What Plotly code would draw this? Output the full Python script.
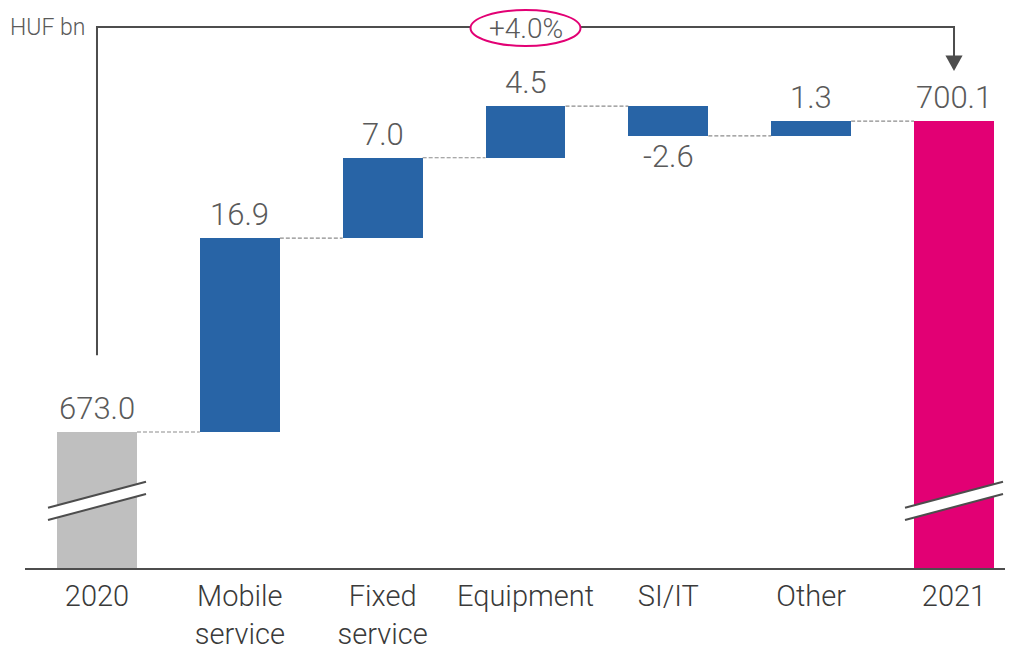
import plotly.graph_objects as go

# ---------------------------------------------------------------------------
# Data
# ---------------------------------------------------------------------------
categories = ['2020', 'Mobile<br>service', 'Fixed<br>service', 'Equipment',
              'SI/IT', 'Other', '2021']
start_value = 673.0
deltas = [16.9, 7.0, 4.5, -2.6, 1.3]
end_value = 700.1
unit_label = 'HUF bn'

COLORS = {
    'start':  '#BFBFBF',
    'delta':  '#2864A6',
    'end':    '#E20074',
    'text':   '#5A5A5A',
    'tick':   '#3A3A3A',
    'line':   '#4D4D4D',
    'dash':   '#8C8C8C',
}

FONT = 'Roboto'
AXIS_FLOOR = 661.15      # broken axis: value at the baseline
AXIS_TOP = 709.95
BAR_W = 0.56

# ---------------------------------------------------------------------------
# Waterfall geometry from the data
# ---------------------------------------------------------------------------
n = len(categories)
xs = list(range(n))
running = [start_value]
for d in deltas:
    running.append(round(running[-1] + d, 1))

bases = [AXIS_FLOOR] + running[:-1] + [AXIS_FLOOR]
heights = [start_value - AXIS_FLOOR] + deltas + [end_value - AXIS_FLOOR]
colors = [COLORS['start']] + [COLORS['delta']] * len(deltas) + [COLORS['end']]
labels = [f'{start_value:.1f}'] + [f'{d:.1f}' for d in deltas] + [f'{end_value:.1f}']

fig = go.Figure(go.Bar(
    x=xs, y=heights, base=bases, width=BAR_W,
    marker=dict(color=colors, line=dict(width=0)),
    hoverinfo='skip',
))

label_font = dict(family=FONT, size=31, color=COLORS['text'], weight=300)

# value labels
for i in xs:
    top = bases[i] + heights[i]
    if heights[i] >= 0:
        fig.add_annotation(x=i, y=top, text=labels[i], showarrow=False,
                           yanchor='bottom', yshift=3, font=label_font)
    else:
        fig.add_annotation(x=i, y=top, text=labels[i], showarrow=False,
                           yanchor='top', yshift=0, font=label_font)

# dashed connectors
for i in range(n - 1):
    fig.add_shape(type='line', xref='x', yref='y',
                  x0=i + BAR_W / 2, x1=i + 1 - BAR_W / 2,
                  y0=running[i], y1=running[i],
                  line=dict(color=COLORS['dash'], width=1.2, dash='4px,2px'))

# axis break marks on the first and last bars
for i in (0, n - 1):
    x0, x1 = i - 0.343, i + 0.343
    fig.add_shape(type='path', xref='x', yref='y',
                  path=f'M {x0},666.4 L {x1},668.67 L {x1},667.6 L {x0},665.33 Z',
                  fillcolor='white', line=dict(width=0))
    fig.add_shape(type='line', xref='x', yref='y', x0=x0, x1=x1, y0=666.4, y1=668.67,
                  line=dict(color=COLORS['line'], width=2))
    fig.add_shape(type='line', xref='x', yref='y', x0=x0, x1=x1, y0=665.33, y1=667.6,
                  line=dict(color=COLORS['line'], width=2))

# growth bracket 2020 -> 2021
growth = (end_value / start_value - 1) * 100
y_top = 708.3
fig.add_shape(type='path', xref='x', yref='y',
              path=f'M 0,679.7 L 0,{y_top} L {n - 1},{y_top} L {n - 1},705.6',
              line=dict(color=COLORS['line'], width=2))
fig.add_shape(type='path', xref='x', yref='y',
              path=f'M {n - 1 - 0.06},705.8 L {n - 1 + 0.06},705.8 L {n - 1},704.45 Z',
              fillcolor=COLORS['line'], line=dict(width=0))
fig.add_shape(type='circle', xref='x', yref='y',
              x0=3 - 0.385, x1=3 + 0.385, y0=706.64, y1=709.77,
              fillcolor='white', line=dict(color=COLORS['end'], width=2))
fig.add_annotation(x=3, y=(706.64 + 709.77) / 2, text=f'+{growth:.1f}%', showarrow=False,
                   font=dict(family=FONT, size=28, color=COLORS['text'], weight=300))

fig.add_annotation(xref='paper', yref='paper', x=-0.0173, y=0.965, xanchor='left',
                   yanchor='middle', text=unit_label, showarrow=False,
                   font=dict(family=FONT, size=23, color=COLORS['text'], weight=300))

fig.update_layout(
    width=1020, height=647,
    paper_bgcolor='white', plot_bgcolor='white',
    margin=dict(l=17, r=23, t=0, b=87),
    showlegend=False,
    bargap=0,
    xaxis=dict(range=[-0.504, 6.357], tickvals=xs, ticktext=categories,
               showgrid=False, zeroline=False, showline=True,
               linecolor=COLORS['line'], linewidth=2, ticks='',
               automargin=False, ticklabelstandoff=1,
               tickfont=dict(family=FONT, size=29, color=COLORS['tick'], weight=300)),
    yaxis=dict(range=[AXIS_FLOOR, AXIS_TOP], visible=False, showgrid=False,
               automargin=False),
)

fig.write_html('out.html')
